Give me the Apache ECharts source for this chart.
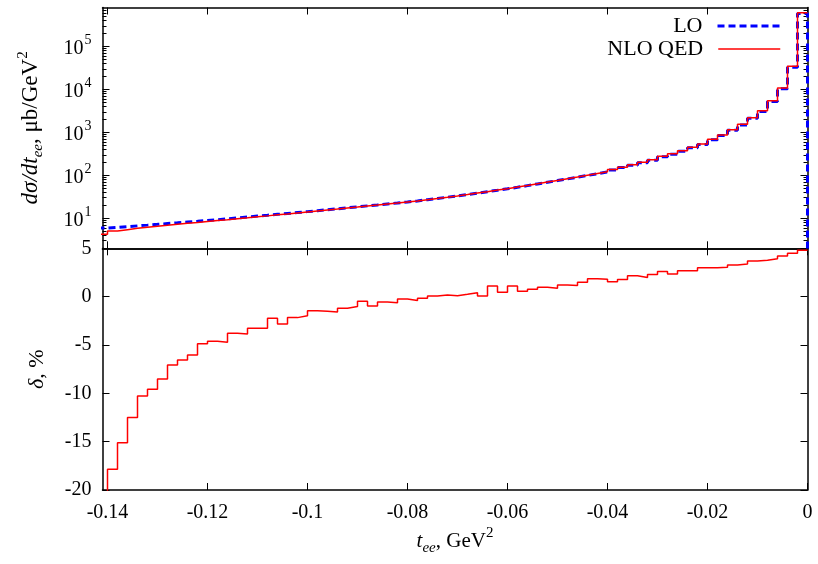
<!DOCTYPE html>
<html><head><meta charset="utf-8">
<script src="https://cdn.jsdelivr.net/npm/echarts@6/dist/echarts.min.js"></script>
<style>html,body{margin:0;padding:0;background:#fff}#c{width:818px;height:564px}</style>
</head><body><div id="c"></div>
<script>
// bin edges (left edges of bins, last entry = right edge of last bin)
const binEdges = [-0.142,-0.14,-0.138,-0.136,-0.134,-0.132,-0.13,-0.128,-0.126,-0.124,-0.122,-0.12,-0.118,-0.116,-0.114,-0.112,-0.11,-0.108,-0.106,-0.104,-0.102,-0.1,-0.098,-0.096,-0.094,-0.092,-0.09,-0.088,-0.086,-0.084,-0.082,-0.08,-0.078,-0.076,-0.074,-0.072,-0.07,-0.068,-0.066,-0.064,-0.062,-0.06,-0.058,-0.056,-0.054,-0.052,-0.05,-0.048,-0.046,-0.044,-0.042,-0.04,-0.038,-0.036,-0.034,-0.032,-0.03,-0.028,-0.026,-0.024,-0.022,-0.02,-0.018,-0.016,-0.014,-0.012,-0.01,-0.008,-0.006,-0.004,-0.002,0];
// LO dsigma/dt per bin (ub/GeV^2)
const loValues = [5.9,6.12,6.38,6.65,6.92,7.21,7.52,7.83,8.16,8.49,8.85,9.25,9.70,10.18,10.69,11.22,11.75,12.33,12.94,13.58,14.26,14.96,15.78,16.60,17.50,18.41,19.41,20.42,21.53,22.65,23.88,25.29,27.04,28.91,30.90,33.11,35.65,38.46,41.50,44.77,48.31,52.48,57.41,62.81,68.71,75.16,82.41,90.36,99.1,108.6,119.1,133.4,151.4,171.8,195.9,225,270,309,363,435,519,667,839,1112,1483,2108,3063,5220,10280,32700,580000];
const loBeyondEnd = 0.1;
// NLO QED dsigma/dt per bin
const nloValues = [4.26,5.03,5.42,5.82,6.21,6.52,6.88,7.28,7.63,7.98,8.42,8.82,9.24,9.79,10.28,10.85,11.36,12.05,12.57,13.29,13.98,14.74,15.54,16.34,17.29,18.22,19.32,20.22,21.41,22.51,23.82,25.19,26.99,28.93,30.95,33.14,35.74,38.62,41.53,45.26,48.53,53.06,57.73,63.29,69.38,75.81,83.41,91.39,100.6,110.6,121.2,135.5,154.1,175.5,199.8,230.1,277.0,316.2,372.8,446.7,534.6,687.0,864.4,1148,1533,2186,3178,5425,10710,34160,607800];
// relative correction delta, %
const deltaValues = [-30,-17.86,-15.1,-12.5,-10.28,-9.59,-8.52,-7.07,-6.55,-6.03,-4.86,-4.62,-4.72,-3.79,-3.86,-3.28,-3.28,-2.24,-2.83,-2.17,-1.97,-1.45,-1.52,-1.59,-1.21,-1.03,-0.48,-0.97,-0.55,-0.62,-0.24,-0.41,-0.17,0.07,0.17,0.10,0.24,0.41,0.07,1.10,0.45,1.10,0.55,0.76,0.97,0.86,1.21,1.14,1.48,1.86,1.79,1.55,1.76,2.17,1.97,2.28,2.59,2.34,2.69,2.69,3.0,3.0,3.03,3.28,3.38,3.69,3.76,3.93,4.21,4.48,4.79];
const xTickValues = [-0.14,-0.12,-0.1,-0.08,-0.06,-0.04,-0.02,0];
const xTickLabels = ['-0.14','-0.12','-0.1','-0.08','-0.06','-0.04','-0.02','0'];
const yTopTickValues = [10,100,1000,10000,100000];
const yTopTickLabels = ['10{s|1}','10{s|2}','10{s|3}','10{s|4}','10{s|5}'];
const yTopMinorTicks = [2,3,4,5,6,7,8,9,20,30,40,50,60,70,80,90,200,300,400,500,600,700,800,900,2000,3000,4000,5000,6000,7000,8000,9000,20000,30000,40000,50000,60000,70000,80000,90000,200000,300000,400000,500000,600000,700000];
const yBotTicks = [-20,-15,-10,-5,0,5];

const serif = '"Liberation Serif","DejaVu Serif",serif';
function stepData(vals, endVal) {
  const d = vals.map((v, i) => [binEdges[i], v]);
  d.push([binEdges[vals.length], vals[vals.length - 1]]);
  if (endVal !== undefined) d.push([binEdges[vals.length], endVal]);
  return d;
}
const axisLine = {show: true, onZero: false, lineStyle: {color: '#000', width: 1.5}};
const noLine = {show: false, onZero: false};
const G0 = {left: 102.5, right: 10.5, top: 7.5, height: 240.8};
const G1 = {left: 102.5, right: 10.5, top: 248.3, height: 241.7};
function titleRich(fs) {
  return {
    i: {fontFamily: serif, fontSize: fs, fontStyle: 'italic', color: '#000', lineHeight: 30},
    n: {fontFamily: serif, fontSize: fs, color: '#000', lineHeight: 30},
    sub: {fontFamily: serif, fontSize: 15, fontStyle: 'italic', color: '#000', lineHeight: 14, verticalAlign: 'bottom'},
    sup: {fontFamily: serif, fontSize: 15, color: '#000', lineHeight: 14, verticalAlign: 'top'}};
}
function xAx(grid, pos, labels) {
  const a = {type: 'value', gridIndex: grid, position: pos, min: -0.141, max: 0,
    axisLine: axisLine, splitLine: {show: false},
    axisTick: {show: true, inside: true, length: 7, customValues: xTickValues, lineStyle: {color: '#000', width: 1}},
    axisLabel: {show: false}};
  if (labels) {
    a.axisLabel = {show: true, customValues: xTickValues, margin: 13, color: '#000',
      fontFamily: serif, fontSize: 20,
      formatter: v => { const i = xTickValues.findIndex(t => Math.abs(t - v) < 1e-9); return i >= 0 ? xTickLabels[i] : ''; }};
    a.name = '{i|t}{sub|ee}{n|, GeV}{sup|2}';
    a.nameLocation = 'middle';
    a.nameGap = 36;
    a.nameTextStyle = {rich: titleRich(21)};
  }
  return a;
}
function yLog(pos, ticks, len, labels, line) {
  const a = {type: 'log', gridIndex: 0, position: pos, min: 2, max: 800000,
    axisLine: line ? axisLine : noLine, splitLine: {show: false}, minorTick: {show: false},
    axisTick: {show: true, inside: true, length: len, customValues: ticks, lineStyle: {color: '#000', width: 1}},
    axisLabel: {show: false}};
  if (labels) {
    a.axisLabel = {show: true, customValues: yTopTickValues, margin: 11, color: '#000',
      formatter: v => { const e = Math.round(Math.log10(v)); const i = yTopTickValues.findIndex(t => Math.round(Math.log10(t)) === e); return i >= 0 ? '{b|' + yTopTickLabels[i].replace('{s|', '}{s|') : ''; },
      rich: {b: {fontFamily: serif, fontSize: 20, color: '#000', lineHeight: 26, padding: [4, 0, 0, 0]},
             s: {fontFamily: serif, fontSize: 14, color: '#000', lineHeight: 14, verticalAlign: 'top', padding: [0, 0, 0, 1]}}};
    a.name = '{i|dσ/dt}{sub|ee}{n|, μb/GeV}{sup|2}';
    a.nameLocation = 'middle';
    a.nameGap = 57;
    a.nameTextStyle = {rich: titleRich(23)};
  }
  return a;
}
function yLin(pos, labels) {
  const a = {type: 'value', gridIndex: 1, position: pos, min: -20, max: 5, interval: 5,
    axisLine: axisLine, splitLine: {show: false},
    axisTick: {show: true, inside: true, length: 7, lineStyle: {color: '#000', width: 1}},
    axisLabel: {show: false}};
  if (labels) {
    a.axisLabel = {show: true, margin: 11, color: '#000', fontFamily: serif, fontSize: 20};
    a.name = '{i|δ}{n|, %}';
    a.nameLocation = 'middle';
    a.nameGap = 50;
    a.nameTextStyle = {rich: titleRich(22)};
  }
  return a;
}
const legendText = {fontFamily: serif, fontSize: 22, color: '#000', padding: [0, 10, 0, 0]};
const option = {
  animation: false,
  backgroundColor: '#fff',
  grid: [G0, G1],
  xAxis: [xAx(0, 'bottom', false), xAx(0, 'top', false), xAx(1, 'bottom', true), xAx(1, 'top', false)],
  yAxis: [yLog('left', yTopTickValues, 7, true, true), yLog('right', yTopTickValues, 7, false, true),
          yLog('left', yTopMinorTicks, 4, false, false), yLog('right', yTopMinorTicks, 4, false, false),
          yLin('left', true), yLin('right', false)],
  legend: [
    {data: ['LO'], right: 37, top: 15, align: 'right', orient: 'vertical', padding: 0, itemWidth: 62, itemHeight: 14,
     textStyle: legendText, selectedMode: false, itemStyle: {opacity: 0}, lineStyle: {width: 3}},
    {data: ['NLO QED'], right: 37, top: 38, align: 'right', orient: 'vertical', padding: 0, itemWidth: 62, itemHeight: 14,
     textStyle: legendText, selectedMode: false, itemStyle: {opacity: 0}, lineStyle: {width: 1.5}}
  ],
  series: [
    {name: 'LO', type: 'line', xAxisIndex: 0, yAxisIndex: 0, step: 'end', symbol: 'none', showSymbol: false,
     data: stepData(loValues, loBeyondEnd), color: '#0000ff', lineStyle: {color: '#0000ff', width: 3, type: [7, 4]}, z: 2},
    {name: 'NLO QED', type: 'line', xAxisIndex: 0, yAxisIndex: 0, step: 'end', symbol: 'none', showSymbol: false,
     data: stepData(nloValues), color: '#ff0000', lineStyle: {color: '#ff0000', width: 1.5}, z: 3},
    {name: 'delta', type: 'line', xAxisIndex: 2, yAxisIndex: 4, step: 'end', symbol: 'none', showSymbol: false,
     data: stepData(deltaValues), color: '#ff0000', lineStyle: {color: '#ff0000', width: 1.5}, z: 3}
  ]
};
const chart = echarts.init(document.getElementById('c'), null, {renderer: 'canvas'});
chart.setOption(option);
</script></body></html>
